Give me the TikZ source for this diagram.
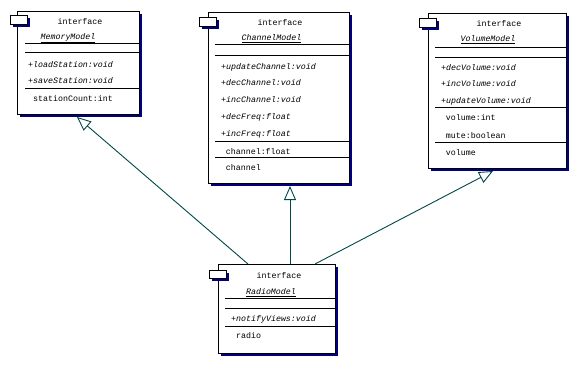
\documentclass[tikz,border=0pt]{standalone}
\usepackage{fontspec}
\setmonofont{Liberation Mono}
\usetikzlibrary{arrows.meta,shadows}
\definecolor{shadowblue}{RGB}{0,0,128}
\definecolor{linkteal}{RGB}{0,72,72}
\begin{document}
\begin{tikzpicture}[x=1pt,y=-1pt,
  umlbox/.style={draw=black, fill=white, line width=1pt, anchor=north west, inner sep=0pt, outer sep=0pt,
    drop shadow={shadow xshift=3pt, shadow yshift=-3pt, fill=shadowblue, opacity=1}},
  umltab/.style={umlbox},
  txt/.style={font=\ttfamily\fontsize{8.3}{9}\selectfont, inner sep=0pt},
  lft/.style={txt, anchor=west},
  sep/.style={draw=black, line width=1pt},
  impl/.style={draw=linkteal, line width=0.9pt, -{Triangle[open, length=14pt, width=12pt, fill=white]}}
]
\useasboundingbox (0,0) rectangle (578,365);

% ---------- MemoryModel ----------
\node[umlbox, minimum width=122pt, minimum height=103pt] (mem) at (17,11) {};
\node[umltab, minimum width=17pt, minimum height=9pt] (memtab) at (10,15) {};
\node[txt] (memst) at (80,22) {interface};
\node[txt] (memname) at (68,38) {\underline{\itshape MemoryModel}};
\draw[sep] (25,43) -- (139,43);
\draw[sep] (25,52) -- (139,52);
\node[lft] (memm1) at (28,65) {\itshape +loadStation:void};
\node[lft] (memm2) at (28,81) {\itshape +saveStation:void};
\draw[sep] (25,88) -- (139,88);
\node[lft] (mema1) at (33,99) {stationCount:int};

% ---------- ChannelModel ----------
\node[umlbox, minimum width=141pt, minimum height=171pt] (chan) at (208,12) {};
\node[umltab, minimum width=17pt, minimum height=9pt] (chantab) at (199,17) {};
\node[txt] (chanst) at (280,23) {interface};
\node[txt] (channame) at (271.5,39) {\underline{\itshape ChannelModel}};
\draw[sep] (215,44) -- (349,44);
\draw[sep] (215,55) -- (349,55);
\node[lft] (chanm1) at (221,67) {\itshape +updateChannel:void};
\node[lft] (chanm2) at (221,83) {\itshape +decChannel:void};
\node[lft] (chanm3) at (221,100) {\itshape +incChannel:void};
\node[lft] (chanm4) at (221,117) {\itshape +decFreq:float};
\node[lft] (chanm5) at (221,134) {\itshape +incFreq:float};
\draw[sep] (215,141) -- (349,141);
\node[lft] (chana1) at (225.7,152) {channel:float};
\draw[sep] (215,157) -- (349,157);
\node[lft] (chanv1) at (225.7,168) {channel};

% ---------- VolumeModel ----------
\node[umlbox, minimum width=138pt, minimum height=155pt] (vol) at (428,13) {};
\node[umltab, minimum width=17pt, minimum height=9pt] (voltab) at (419,18) {};
\node[txt] (volst) at (499,24) {interface};
\node[txt] (volname) at (488,40) {\underline{\itshape VolumeModel}};
\draw[sep] (435,47) -- (566,47);
\draw[sep] (435,57) -- (566,57);
\node[lft] (volm1) at (441,68) {\itshape +decVolume:void};
\node[lft] (volm2) at (441,84) {\itshape +incVolume:void};
\node[lft] (volm3) at (441,101) {\itshape +updateVolume:void};
\draw[sep] (435,107) -- (566,107);
\node[lft] (vola1) at (445.7,118) {volume:int};
\node[lft] (vola2) at (445.7,136) {mute:boolean};
\draw[sep] (435,142) -- (566,142);
\node[lft] (volv1) at (445.7,153) {volume};

% ---------- RadioModel ----------
\node[umlbox, minimum width=117pt, minimum height=89pt] (radio) at (218,264) {};
\node[umltab, minimum width=17pt, minimum height=8pt] (radiotab) at (209,270) {};
\node[txt] (radiost) at (279,276) {interface};
\node[txt] (radioname) at (271,293) {\underline{\itshape RadioModel}};
\draw[sep] (225,298) -- (335,298);
\draw[sep] (225,308) -- (335,308);
\node[lft] (radiom1) at (231,319) {\itshape +notifyViews:void};
\draw[sep] (225,326) -- (335,326);
\node[lft] (radiov1) at (236,336) {radio};

% ---------- realization connectors ----------
\coordinate (rs1) at (248,264);
\coordinate (rs2) at (290,264);
\coordinate (rs3) at (315,264);
\coordinate (me) at (77,117);
\coordinate (ce) at (290,186);
\coordinate (ve) at (493,171);
\draw[impl] (rs1) -- (me);
\draw[impl] (rs2) -- (ce);
\draw[impl] (rs3) -- (ve);
\end{tikzpicture}
\end{document}
